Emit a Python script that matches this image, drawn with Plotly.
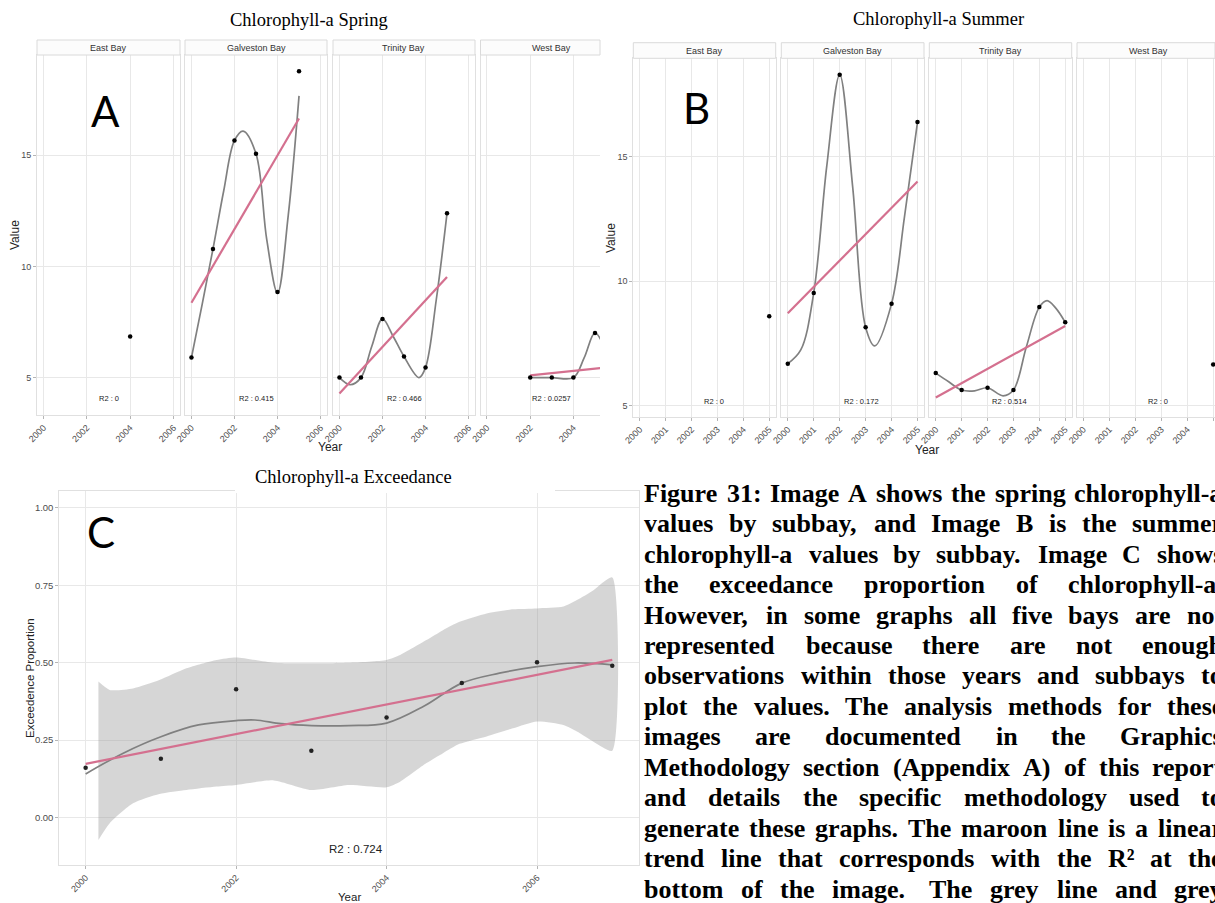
import numpy as np
import plotly.graph_objects as go

W, H = 1215, 903

# ---------------- Image A : Chlorophyll-a Spring ----------------
spring_bays = ["East Bay", "Galveston Bay", "Trinity Bay", "West Bay"]
spring_east_years = [2004]
spring_east_values = [6.85]
spring_galv_years = [2000, 2001, 2002, 2003, 2004, 2005]
spring_galv_values = [5.90, 10.78, 15.66, 15.06, 8.85, 18.77]
spring_trin_years = [2000, 2001, 2002, 2003, 2004, 2005]
spring_trin_values = [5.00, 5.00, 7.64, 5.95, 5.45, 12.39]
spring_west_years = [2002, 2003, 2004, 2005, 2006]
spring_west_values = [5.00, 5.00, 5.00, 7.01, 4.50]
spring_r2 = ["R2 : 0", "R2 : 0.415", "R2 : 0.466", "R2 : 0.0257"]

# smoother (grey line)
spring_galv_smooth_x = [2000, 2000.5, 2001, 2001.5, 2002, 2002.4, 2003, 2003.5, 2004, 2004.5, 2005]
spring_galv_smooth_y = [5.90, 8.3, 10.78, 13.4, 15.66, 16.08, 15.06, 11.2, 8.80, 12.3, 17.66]
spring_trin_smooth_x = [2000, 2000.5, 2001, 2001.5, 2002, 2002.5, 2003, 2003.7, 2004, 2004.5, 2005]
spring_trin_smooth_y = [5.00, 4.68, 5.00, 6.40, 7.64, 6.85, 5.95, 5.00, 5.45, 8.50, 12.39]
spring_west_smooth_x = [2002, 2003, 2004, 2004.5, 2005, 2005.5, 2006]
spring_west_smooth_y = [5.00, 5.00, 5.00, 5.90, 7.01, 6.20, 4.50]

# ---------------- Image B : Chlorophyll-a Summer ----------------
summer_bays = ["East Bay", "Galveston Bay", "Trinity Bay", "West Bay"]
summer_east_years = [2005]
summer_east_values = [8.59]
summer_galv_years = [2000, 2001, 2002, 2003, 2004, 2005]
summer_galv_values = [6.69, 9.53, 18.29, 8.15, 9.10, 16.39]
summer_trin_years = [2000, 2001, 2002, 2003, 2004, 2005]
summer_trin_values = [6.31, 5.63, 5.72, 5.63, 8.96, 8.35]
summer_west_years = [2005]
summer_west_values = [6.66]
summer_r2 = ["R2 : 0", "R2 : 0.172", "R2 : 0.514", "R2 : 0"]

summer_galv_smooth_x = [2000, 2000.5, 2001, 2001.5, 2002, 2002.5, 2003, 2003.35, 2004, 2004.5, 2005]
summer_galv_smooth_y = [6.69, 7.24, 9.53, 14.6, 18.29, 13.8, 8.15, 7.40, 9.10, 12.6, 16.39]
summer_trin_smooth_x = [2000, 2000.5, 2001, 2001.5, 2002, 2002.6, 2003, 2003.5, 2004, 2004.3, 2004.65, 2005]
summer_trin_smooth_y = [6.31, 5.96, 5.63, 5.60, 5.72, 5.40, 5.63, 7.37, 8.96, 9.22, 8.90, 8.35]

# ---------------- Image C : Chlorophyll-a Exceedance ----------------
exceed_years = [2000, 2001, 2002, 2003, 2004, 2005, 2006, 2007]
exceed_values = [0.161, 0.190, 0.414, 0.216, 0.323, 0.434, 0.501, 0.490]
exceed_r2 = "R2 : 0.724"
exceed_smooth_x = [2000, 2000.5, 2001, 2001.5, 2002, 2002.25, 2002.6, 2003, 2003.5, 2004, 2004.5,
                   2005, 2005.5, 2006, 2006.5, 2007]
exceed_smooth_y = [0.141, 0.208, 0.261, 0.299, 0.313, 0.315, 0.303, 0.297, 0.297, 0.305, 0.360,
                   0.434, 0.466, 0.487, 0.499, 0.493]
exceed_band_x = [2000.17, 2000.32, 2000.63, 2000.98, 2001.34, 2001.74, 2002.0, 2002.5, 2003.0, 2003.5,
                 2004.0, 2004.18, 2004.53, 2004.75, 2004.97, 2005.33, 2005.68, 2006.0, 2006.35, 2006.53,
                 2006.75, 2007.0]
exceed_band_upper = [0.439, 0.412, 0.417, 0.444, 0.482, 0.509, 0.517, 0.500, 0.498, 0.500,
                     0.509, 0.525, 0.573, 0.605, 0.632, 0.659, 0.672, 0.675, 0.681, 0.702,
                     0.734, 0.775]
exceed_band_lower = [-0.072, -0.018, 0.046, 0.076, 0.089, 0.100, 0.105, 0.120, 0.089, 0.105,
                     0.098, 0.116, 0.176, 0.208, 0.238, 0.262, 0.288, 0.310, 0.299, 0.278,
                     0.245, 0.216]

# ---------------- caption text (justified lines) ----------------
caption_lines = [
    "Figure 31: Image A shows the spring chlorophyll-a",
    "values by subbay, and Image B is the summer",
    "chlorophyll-a values by subbay. Image C shows",
    "the exceedance proportion of chlorophyll-a.",
    "However, in some graphs all five bays are not",
    "represented because there are not enough",
    "observations within those years and subbays to",
    "plot the values. The analysis methods for these",
    "images are documented in the Graphics",
    "Methodology section (Appendix A) of this report",
    "and details the specific methodology used to",
    "generate these graphs. The maroon line is a linear",
    "trend line that corresponds with the R\u00b2 at the",
    "bottom of the image.  The grey line and grey",
]

# ---------------- styling ----------------
SANS = "Liberation Sans, Arial, sans-serif"
SERIF = "Liberation Serif, Times New Roman, serif"
LETTER = "Lato, Open Sans, sans-serif"
GRID = "#e8e8e8"
BORDER = "#e0e0e0"
TICKC = "#b5b5b5"
TICKFC = "#4d4d4d"
PINK = "#d4708f"
GREY = "#808080"

fig = go.Figure()
axes = {}
annotations = []
shapes = []


def pxx(x):
    return x / W


def pxy(y):
    return 1 - y / H


def add_panel(idx, xpx, ypx, xr, yr, xticks, yticks, ytext, years, vals, sx, sy, r2, r2xy,
              strip=None, strip_px=None, right_border=True, band=None, r2size=7.5,
              point_color="black", point_size=4.5, ytickfont=9):
    xa = "x" if idx == 1 else f"x{idx}"
    ya = "y" if idx == 1 else f"y{idx}"
    xk = "xaxis" if idx == 1 else f"xaxis{idx}"
    yk = "yaxis" if idx == 1 else f"yaxis{idx}"
    axes[xk] = dict(domain=[pxx(xpx[0]), pxx(xpx[1])], range=xr, anchor=ya, automargin=False,
                    tickmode="array", tickvals=xticks, ticktext=[str(t) for t in xticks],
                    tickangle=-45, ticks="outside", ticklen=3, tickcolor=TICKC, tickwidth=1,
                    tickfont=dict(family=SANS, size=9, color=TICKFC),
                    showgrid=True, gridcolor=GRID, gridwidth=1, zeroline=False,
                    showline=True, linecolor=BORDER, linewidth=1, mirror=True, fixedrange=True)
    ya_dict = dict(domain=[pxy(ypx[1]), pxy(ypx[0])], range=yr, anchor=xa, automargin=False,
                   tickmode="array", tickvals=yticks,
                   showgrid=True, gridcolor=GRID, gridwidth=1, zeroline=False,
                   showline=True, linecolor=BORDER, linewidth=1, mirror=right_border,
                   fixedrange=True)
    if ytext is not None:
        ya_dict.update(ticktext=ytext, showticklabels=True, ticks="outside", ticklen=3,
                       tickcolor=TICKC, tickfont=dict(family=SANS, size=ytickfont, color=TICKFC))
    else:
        ya_dict.update(showticklabels=False, ticks="")
    axes[yk] = ya_dict

    if band is not None:
        bx, bu, bl = band
        fig.add_trace(go.Scatter(x=list(bx) + list(bx)[::-1], y=list(bu) + list(bl)[::-1],
                                 fill="toself", fillcolor="rgba(153,153,153,0.4)",
                                 line=dict(width=0, shape="spline", smoothing=0.6),
                                 mode="lines", hoverinfo="skip", xaxis=xa, yaxis=ya))
    if sx is not None:
        fig.add_trace(go.Scatter(x=sx, y=sy, mode="lines",
                                 line=dict(color=GREY, width=1.7, shape="spline", smoothing=1.0),
                                 xaxis=xa, yaxis=ya, hoverinfo="skip"))
    if len(years) > 1:
        slope, icpt = np.polyfit(years, vals, 1)
        lx = [min(years), max(years)]
        fig.add_trace(go.Scatter(x=lx, y=[icpt + slope * v for v in lx], mode="lines",
                                 line=dict(color=PINK, width=2.2), xaxis=xa, yaxis=ya,
                                 hoverinfo="skip"))
    fig.add_trace(go.Scatter(x=years, y=vals, mode="markers",
                             marker=dict(color=point_color, size=point_size),
                             xaxis=xa, yaxis=ya, cliponaxis=False if idx == 8 else True))
    annotations.append(dict(x=r2xy[0], y=r2xy[1], xref=xa, yref=ya, text=r2, showarrow=False,
                            xanchor="center", yanchor="middle",
                            font=dict(family=SANS, size=r2size, color="#222222")))
    if strip is not None:
        shapes.append(dict(type="rect", xref="paper", yref="paper",
                           x0=pxx(xpx[0]), x1=pxx(xpx[1]), y0=pxy(strip_px[1]), y1=pxy(strip_px[0]),
                           fillcolor="#fcfcfc", line=dict(color="#dadada", width=1)))
        annotations.append(dict(x=pxx(strip[1]), y=pxy((strip_px[0] + strip_px[1]) / 2),
                                xref="paper", yref="paper", text=strip[0], showarrow=False,
                                xanchor="center", yanchor="middle",
                                font=dict(family=SANS, size=9, color="#333333")))


# ---- Image A facets ----
A_Y = (55, 415)
A_YR = [3.32, 19.5]
A_XR = [1999.7, 2006.3]
A_XT = [2000, 2002, 2004, 2006]
A_YT = [5, 10, 15]
A_STRIP = (40, 55)
add_panel(1, (37, 180), A_Y, A_XR, A_YR, A_XT, A_YT, ["5", "10", "15"],
          spring_east_years, spring_east_values, None, None, spring_r2[0], (2003, 4.05),
          strip=(spring_bays[0], 108.5), strip_px=A_STRIP)
add_panel(2, (185, 327), A_Y, A_XR, A_YR, A_XT, A_YT, None,
          spring_galv_years, spring_galv_values, spring_galv_smooth_x, spring_galv_smooth_y,
          spring_r2[1], (2003, 4.05), strip=(spring_bays[1], 256), strip_px=A_STRIP)
add_panel(3, (333, 475), A_Y, A_XR, A_YR, A_XT, A_YT, None,
          spring_trin_years, spring_trin_values, spring_trin_smooth_x, spring_trin_smooth_y,
          spring_r2[2], (2003, 4.05), strip=(spring_bays[2], 404), strip_px=A_STRIP)
add_panel(4, (480.5, 600), A_Y, [1999.7, 2005.23], A_YR, A_XT, A_YT, None,
          spring_west_years, spring_west_values, spring_west_smooth_x, spring_west_smooth_y,
          spring_r2[3], (2003, 4.05), strip=(spring_bays[3], 551.5), strip_px=A_STRIP,
          right_border=False)

# ---- Image B facets ----
B_Y = (58.3, 416.7)
B_YR = [4.56, 18.95]
B_XR = [1999.75, 2005.25]
B_XT = [2000, 2001, 2002, 2003, 2004, 2005]
B_STRIP = (42.7, 58.3)
add_panel(5, (633.3, 775.7), B_Y, B_XR, B_YR, B_XT, A_YT, ["5", "10", "15"],
          summer_east_years, summer_east_values, None, None, summer_r2[0], (2002.86, 5.16),
          strip=(summer_bays[0], 704.5), strip_px=B_STRIP)
add_panel(6, (781.3, 924), B_Y, B_XR, B_YR, B_XT, A_YT, None,
          summer_galv_years, summer_galv_values, summer_galv_smooth_x, summer_galv_smooth_y,
          summer_r2[1], (2002.86, 5.16), strip=(summer_bays[1], 852.6), strip_px=B_STRIP)
add_panel(7, (929.3, 1071.7), B_Y, B_XR, B_YR, B_XT, A_YT, None,
          summer_trin_years, summer_trin_values, summer_trin_smooth_x, summer_trin_smooth_y,
          summer_r2[2], (2002.86, 5.16), strip=(summer_bays[2], 1000.5), strip_px=B_STRIP)
add_panel(8, (1077, 1215), B_Y, [1999.75, 2005.07], B_YR, B_XT, A_YT, None,
          summer_west_years, summer_west_values, None, None,
          summer_r2[3], (2002.86, 5.16), strip=(summer_bays[3], 1148.3), strip_px=B_STRIP,
          right_border=False)

# ---- Image C ----
add_panel(9, (59.3, 638.6), (490.7, 865), [1999.65, 2007.35], [-0.153, 1.055],
          [2000, 2002, 2004, 2006], [0, 0.25, 0.5, 0.75, 1.0],
          ["0.00", "0.25", "0.50", "0.75", "1.00"],
          exceed_years, exceed_values, exceed_smooth_x, exceed_smooth_y, exceed_r2, (2003.59, -0.101),
          band=(exceed_band_x, exceed_band_upper, exceed_band_lower), r2size=11.5,
          point_color="#222222", point_size=4.5, ytickfont=9.5)

# white gap in the top border of panel C behind its title
shapes.append(dict(type="rect", xref="paper", yref="paper", layer="above",
                   x0=pxx(235), x1=pxx(555), y0=pxy(493), y1=pxy(486),
                   fillcolor="white", line=dict(width=0)))


# ---- titles, axis titles, letters ----
def txt(x, y, text, size, family=SANS, color="black", angle=0, **kw):
    d = dict(x=pxx(x), y=pxy(y), xref="paper", yref="paper", text=text, showarrow=False,
             xanchor="center", yanchor="middle",
             font=dict(family=family, size=size, color=color), textangle=angle)
    d.update(kw)
    annotations.append(d)


txt(309, 20, "Chlorophyll-a Spring", 18.5, SERIF)
txt(938, 19.5, "Chlorophyll-a Summer", 18.5, SERIF)
txt(353.5, 476.7, "Chlorophyll-a Exceedance", 18.5, SERIF)

txt(15, 235, "Value", 12, SANS, "#222222", -90)
txt(330, 446.7, "Year", 12, SANS, "#222222")
txt(611.7, 238.3, "Value", 12, SANS, "#222222", -90)
txt(926.7, 450, "Year", 12, SANS, "#222222")
txt(30.7, 678.3, "Exceedence Proportion", 11.5, SANS, "#222222", -90)
txt(349, 896.7, "Year", 11.5, SANS, "#222222")

txt(105, 111, "A", 42, LETTER)
txt(696, 108.5, "B", 42, LETTER)
txt(101, 531.5, "C", 42, LETTER)

# ---- caption: justified layout using Times-Bold advance widths ----
TB = {" ": 250, "a": 500, "b": 556, "c": 444, "d": 556, "e": 444, "f": 333, "g": 500, "h": 556,
      "i": 278, "j": 333, "k": 556, "l": 278, "m": 833, "n": 556, "o": 500, "p": 556, "q": 556,
      "r": 444, "s": 389, "t": 333, "u": 556, "v": 500, "w": 722, "x": 500, "y": 500, "z": 444,
      "A": 722, "B": 667, "C": 722, "D": 722, "E": 667, "F": 611, "G": 778, "H": 778, "I": 389,
      "M": 944, "R": 722, "T": 667, ".": 250, ",": 250, ":": 333, "-": 333, "(": 333, ")": 333,
      "\u00b2": 300, "0": 500, "1": 500, "2": 500, "3": 500}
CAP_SIZE = 26
CAP_LEFT = 643.3
CAP_RIGHT = 1222


def word_w(w):
    return sum(TB.get(c, 500) for c in w) / 1000 * CAP_SIZE


for i, line in enumerate(caption_lines):
    yc = 502 + i * 30.46 - 8.8
    toks = line.split(" ")
    words = [t for t in toks if t != ""]
    extra = (len(toks) - len(words)) * TB[" "] / 1000 * CAP_SIZE
    total = sum(word_w(w) for w in words) + extra
    gap = (CAP_RIGHT - CAP_LEFT - total) / (len(words) - 1)
    x = CAP_LEFT
    for w in words:
        annotations.append(dict(x=pxx(x), y=pxy(yc), xref="paper", yref="paper",
                                xanchor="left", yanchor="middle", borderpad=0,
                                text=f"<b>{w}</b>", showarrow=False,
                                font=dict(family=SERIF, size=CAP_SIZE, color="black")))
        x += word_w(w) + gap
        if line.find(w + "  ") >= 0:
            x += extra

fig.update_layout(width=W, height=H, margin=dict(l=0, r=0, t=0, b=0, pad=0, autoexpand=False),
                  paper_bgcolor="white", plot_bgcolor="white", showlegend=False,
                  annotations=annotations, shapes=shapes, **axes)

fig.write_html("out.html")
